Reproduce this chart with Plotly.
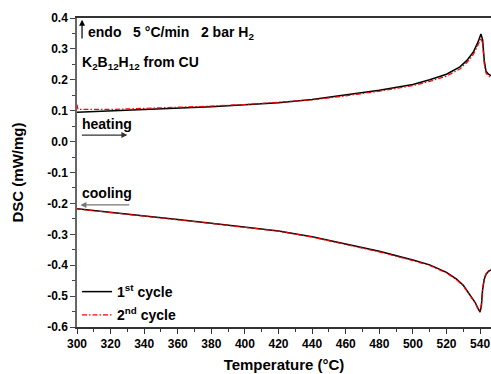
import plotly.graph_objects as go

# Heating branch (upper trace), temperature in °C and DSC in mW/mg
heat_T1 = [300, 320, 340, 360, 380, 400, 420, 440, 460, 480, 500, 510, 520, 528,
           532, 536, 539, 540.5, 541.5, 542.5, 543.5, 545, 546.5]
heat_c1 = [0.095, 0.099, 0.103, 0.108, 0.113, 0.119, 0.126, 0.136, 0.150, 0.166,
           0.185, 0.200, 0.218, 0.242, 0.262, 0.290, 0.325, 0.348, 0.330, 0.262,
           0.228, 0.218, 0.214]
heat_T2 = [300, 300.6, 320, 340, 360, 380, 400, 420, 440, 460, 480, 500, 510, 520,
           528, 532, 536, 539, 540.5, 541.5, 542.5, 543.5, 545, 546.5]
heat_c2 = [0.120, 0.104, 0.104, 0.107, 0.111, 0.115, 0.120, 0.127, 0.135, 0.148,
           0.163, 0.181, 0.195, 0.212, 0.235, 0.255, 0.282, 0.315, 0.335, 0.318,
           0.250, 0.222, 0.212, 0.208]

# Cooling branch (lower trace)
cool_T = [300, 320, 340, 360, 380, 400, 420, 440, 460, 480, 500, 510, 520, 526,
          530, 534, 537, 539, 540, 540.8, 541.5, 542.5, 543.5, 545, 546.5]
cool_c1 = [-0.217, -0.228, -0.240, -0.252, -0.264, -0.276, -0.289, -0.308, -0.331,
           -0.355, -0.383, -0.399, -0.423, -0.445, -0.465, -0.495, -0.520, -0.542,
           -0.552, -0.530, -0.480, -0.445, -0.430, -0.420, -0.415]
cool_c2 = [-0.218, -0.229, -0.241, -0.253, -0.265, -0.277, -0.290, -0.309, -0.332,
           -0.357, -0.385, -0.401, -0.425, -0.447, -0.467, -0.497, -0.522, -0.544,
           -0.548, -0.525, -0.475, -0.442, -0.428, -0.419, -0.414]

x_ticks = list(range(300, 541, 20))
y_ticks = [0.4, 0.3, 0.2, 0.1, 0.0, -0.1, -0.2, -0.3, -0.4, -0.5, -0.6]
y_tick_text = ["0.4", "0.3", "0.2", "0.1", "0.0", "-0.1", "-0.2", "-0.3", "-0.4", "-0.5", "-0.6"]

FONT = "Liberation Sans"
RED_DASH = "5px,2px,1.5px,2px"

fig = go.Figure()
fig.add_trace(go.Scatter(x=heat_T1, y=heat_c1, mode="lines", name="1<sup>st</sup> cycle",
                         line=dict(color="black", width=1.5), legendgroup="c1"))
fig.add_trace(go.Scatter(x=cool_T, y=cool_c1, mode="lines", showlegend=False,
                         line=dict(color="black", width=1.5), legendgroup="c1"))
fig.add_trace(go.Scatter(x=heat_T2, y=heat_c2, mode="lines", name="2<sup>nd</sup> cycle",
                         line=dict(color="red", width=1.2, dash=RED_DASH), legendgroup="c2"))
fig.add_trace(go.Scatter(x=cool_T, y=cool_c2, mode="lines", showlegend=False,
                         line=dict(color="red", width=1.2, dash=RED_DASH), legendgroup="c2"))

txt = dict(family=FONT, size=14, color="black", weight="bold")

annotations = [
    dict(x=305.5, y=0.351, text="endo   5 °C/min   2 bar H<sub>2</sub>", showarrow=False,
         xanchor="left", yanchor="middle", font=txt),
    dict(x=301.5, y=0.254, text="K<sub>2</sub>B<sub>12</sub>H<sub>12</sub> from CU",
         showarrow=False, xanchor="left", yanchor="middle", font=txt),
    dict(x=301.5, y=0.057, text="heating", showarrow=False, xanchor="left",
         yanchor="middle", font=txt),
    dict(x=301.5, y=-0.166, text="cooling", showarrow=False, xanchor="left",
         yanchor="middle", font=txt),
    # endothermic direction arrow
    dict(x=303, y=0.394, ax=303, ay=0.329, xref="x", yref="y", axref="x", ayref="y",
         text="", showarrow=True, arrowhead=2, arrowsize=1, arrowwidth=1.2, arrowcolor="black"),
    # heating direction arrow
    dict(x=330, y=0.021, ax=302, ay=0.021, xref="x", yref="y", axref="x", ayref="y",
         text="", showarrow=True, arrowhead=2, arrowsize=1, arrowwidth=1.2, arrowcolor="#333"),
    # cooling direction arrow
    dict(x=302, y=-0.205, ax=332, ay=-0.205, xref="x", yref="y", axref="x", ayref="y",
         text="", showarrow=True, arrowhead=2, arrowsize=1, arrowwidth=1.2, arrowcolor="#777"),
]

fig.update_layout(
    width=491, height=374,
    margin=dict(l=77, r=0, t=18, b=47),
    paper_bgcolor="white", plot_bgcolor="white",
    font=dict(family=FONT, size=12, color="black"),
    annotations=annotations,
    showlegend=True,
    legend=dict(x=0.0, y=0.165, xanchor="left", yanchor="top", bgcolor="rgba(0,0,0,0)",
                font=dict(family=FONT, size=14, color="black", weight="bold"),
                itemwidth=30, traceorder="grouped", tracegroupgap=2),
)

fig.update_xaxes(
    range=[300, 546.5], showgrid=False, zeroline=False,
    showline=True, linecolor="#333", linewidth=1.5, mirror=True,
    tickvals=x_ticks, ticktext=[str(t) for t in x_ticks],
    ticks="outside", ticklen=5, tickwidth=1.2, tickcolor="#333",
    minor=dict(ticks="outside", dtick=10, ticklen=3, tickwidth=1, tickcolor="#333"),
    tickfont=dict(family=FONT, size=12, color="black", weight="bold"),
    title=dict(text="Temperature (°C)", standoff=9,
               font=dict(family=FONT, size=15, color="black", weight="bold")),
)
fig.update_yaxes(
    range=[-0.6, 0.4], showgrid=False, zeroline=False,
    showline=True, linecolor="#666", linewidth=1.5,
    tickvals=y_ticks, ticktext=y_tick_text,
    ticks="outside", ticklen=5, tickwidth=1.2, tickcolor="#444",
    minor=dict(ticks="outside", dtick=0.05, ticklen=3, tickwidth=1, tickcolor="#444"),
    tickfont=dict(family=FONT, size=12, color="black", weight="bold"),
    title=dict(text="DSC (mW/mg)", standoff=20,
               font=dict(family=FONT, size=15, color="black", weight="bold")),
)

fig.write_html("out.html")
